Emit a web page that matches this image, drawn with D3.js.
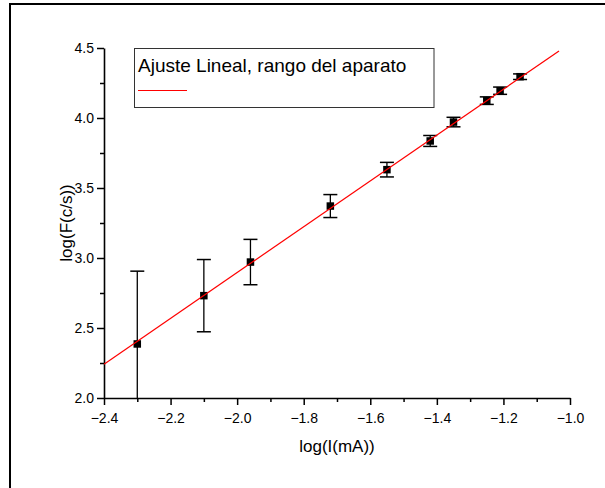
<!DOCTYPE html>
<html>
<head>
<meta charset="utf-8">
<script src="https://cdn.jsdelivr.net/npm/d3@7"></script>
<style>
  html, body { margin: 0; padding: 0; background: #fff; }
  svg { display: block; }
  text { font-family: "Liberation Sans", Arial, sans-serif; fill: #000; }
</style>
</head>
<body>
<svg id="chart" width="605" height="488"></svg>
<script>
// Measured points: log of current (mA) vs log of count rate (c/s)
const logI = [-2.30, -2.10, -1.96, -1.72, -1.55, -1.42, -1.35, -1.25, -1.21, -1.15];
const logF = [2.386, 2.731, 2.971, 3.371, 3.631, 3.836, 3.971, 4.124, 4.195, 4.295];
const logFErr = [0.52, 0.258, 0.162, 0.082, 0.052, 0.039, 0.034, 0.027, 0.026, 0.020];

// Linear fit y = a + b x over the device range
const fitIntercept = 6.17;
const fitSlope = 1.637;
const fitRange = [-2.4, -1.033];

const xTicks = [-2.4, -2.2, -2.0, -1.8, -1.6, -1.4, -1.2, -1.0];
const yTicks = [2.0, 2.5, 3.0, 3.5, 4.0, 4.5];
const legendLabel = "Ajuste Lineal, rango del aparato";
const xTitle = "log(I(mA))";
const yTitle = "log(F(c/s))";

const svg = d3.select("#chart");
const plot = { left: 104, right: 570, top: 48, bottom: 398 };

const x = d3.scaleLinear().domain([-2.4, -1.0]).range([plot.left, plot.right]);
const y = d3.scaleLinear().domain([2.0, 4.5]).range([plot.bottom, plot.top]);

// Outer page frame (top and left edges)
svg.append("path")
  .attr("d", "M10,488 L10,4 L605,4")
  .attr("fill", "none").attr("stroke", "#000").attr("stroke-width", 2);

svg.append("defs").append("clipPath").attr("id", "plotClip")
  .append("rect")
  .attr("x", plot.left).attr("y", plot.top - 20)
  .attr("width", plot.right - plot.left + 20).attr("height", plot.bottom - plot.top + 20);

// Axes: major ticks with labels, minor ticks halfway
const xMinor = d3.range(-2.3, -1.0, 0.2);
const yMinor = d3.range(2.25, 4.5, 0.5);

const gx = svg.append("g").attr("transform", `translate(0,${plot.bottom})`);
gx.call(d3.axisBottom(x).tickValues(xTicks).tickFormat(d3.format(".1f"))
  .tickSize(7).tickSizeOuter(0).tickPadding(8));
gx.append("g").call(d3.axisBottom(x).tickValues(xMinor).tickFormat("").tickSize(4).tickSizeOuter(0))
  .select(".domain").remove();

const gy = svg.append("g").attr("transform", `translate(${plot.left},0)`);
gy.call(d3.axisLeft(y).tickValues(yTicks).tickFormat(d3.format(".1f"))
  .tickSize(7).tickSizeOuter(0).tickPadding(3));
gy.append("g").call(d3.axisLeft(y).tickValues(yMinor).tickFormat("").tickSize(4).tickSizeOuter(0))
  .select(".domain").remove();

svg.selectAll(".domain").attr("stroke", "#000").attr("stroke-width", 1.6);
svg.selectAll(".tick line").attr("stroke", "#000").attr("stroke-width", 1.5);
svg.selectAll(".tick text").style("font-size", "14px").style("font-family", "'Liberation Sans', Arial, sans-serif");

// Axis titles
svg.append("text")
  .attr("x", (plot.left + plot.right) / 2).attr("y", 452)
  .attr("text-anchor", "middle").style("font-size", "17px").text(xTitle);
svg.append("text")
  .attr("transform", `translate(72,${(plot.top + plot.bottom) / 2}) rotate(-90)`)
  .attr("text-anchor", "middle").style("font-size", "17px").text(yTitle);

const data = logI.map((v, i) => ({ x: v, y: logF[i], e: logFErr[i] }));
const clip = svg.append("g").attr("clip-path", "url(#plotClip)");

// Error bars
const capHalf = 7;
const eb = clip.append("g").selectAll("g").data(data).join("g");
eb.append("line")
  .attr("x1", d => x(d.x)).attr("x2", d => x(d.x))
  .attr("y1", d => y(d.y + d.e)).attr("y2", d => Math.min(y(d.y - d.e), plot.bottom))
  .attr("stroke", "#000").attr("stroke-width", 1.3);
eb.append("line")
  .attr("x1", d => x(d.x) - capHalf).attr("x2", d => x(d.x) + capHalf)
  .attr("y1", d => y(d.y + d.e)).attr("y2", d => y(d.y + d.e))
  .attr("stroke", "#000").attr("stroke-width", 1.5);
eb.filter(d => y(d.y - d.e) <= plot.bottom).append("line")
  .attr("x1", d => x(d.x) - capHalf).attr("x2", d => x(d.x) + capHalf)
  .attr("y1", d => y(d.y - d.e)).attr("y2", d => y(d.y - d.e))
  .attr("stroke", "#000").attr("stroke-width", 1.5);

// Square markers
const ms = 7.5;
clip.append("g").selectAll("rect").data(data).join("rect")
  .attr("x", d => x(d.x) - ms / 2).attr("y", d => y(d.y) - ms / 2)
  .attr("width", ms).attr("height", ms).attr("fill", "#000");

// Fit line
const fitLine = d3.line().x(d => x(d)).y(d => y(fitIntercept + fitSlope * d));
svg.append("path")
  .attr("d", fitLine(fitRange))
  .attr("fill", "none").attr("stroke", "#ff0000").attr("stroke-width", 1.2);

// Legend
const lg = svg.append("g");
lg.append("rect")
  .attr("x", 134.5).attr("y", 48.5).attr("width", 299.5).attr("height", 59)
  .attr("fill", "#fff").attr("stroke", "#333").attr("stroke-width", 1);
lg.append("text")
  .attr("x", 138).attr("y", 72)
  .style("font-size", "19px").text(legendLabel);
lg.append("line")
  .attr("x1", 138).attr("x2", 187).attr("y1", 90.5).attr("y2", 90.5)
  .attr("stroke", "#ff0000").attr("stroke-width", 1.2);
</script>
</body>
</html>
